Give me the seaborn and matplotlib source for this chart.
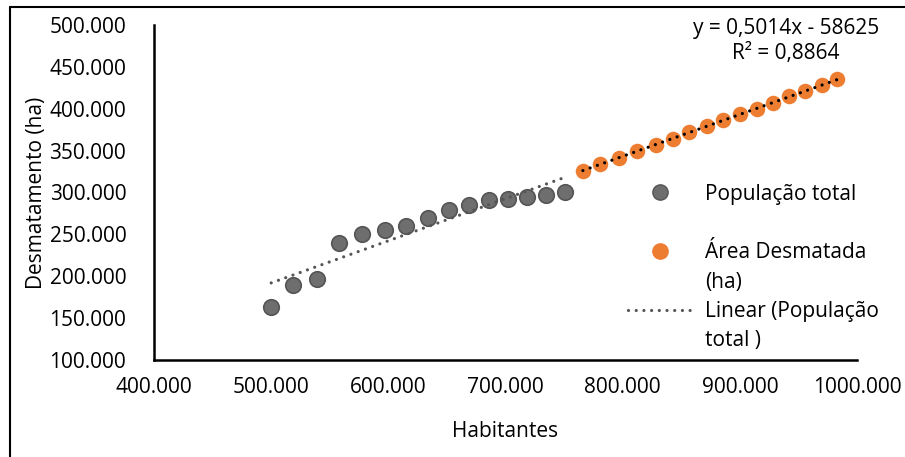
import numpy as np
import pandas as pd
import matplotlib
matplotlib.use("Agg")
import matplotlib.pyplot as plt
from matplotlib.lines import Line2D
from matplotlib.ticker import FuncFormatter
import seaborn as sns

# valores
hab_populacao = [500000, 519000, 539000, 558000, 577500, 597000, 615000, 634000,
                 652000, 669000, 686000, 702000, 718000, 734500, 751000]
desm_populacao = [163600, 189600, 196700, 239300, 250000, 255600, 260400, 269000,
                  279000, 284700, 290700, 292000, 294600, 297000, 300000]
hab_area = [766000, 781000, 797000, 812000, 828000, 843000, 857000, 872000,
            886000, 900000, 915000, 928000, 942000, 956000, 970000, 983000]
desm_area = [326000, 334000, 341600, 349600, 357000, 364000, 372000, 379000,
             386600, 393700, 400000, 407000, 415000, 421000, 428000, 435000]

x_ticks = [400000, 500000, 600000, 700000, 800000, 900000, 1000000]
y_ticks = [100000, 150000, 200000, 250000, 300000, 350000, 400000, 450000, 500000]
equacao = "y = 0,5014x - 58625"
r2 = "R² = 0,8864"

cinza = "#6e6e6e"
cinza_borda = "#555555"
laranja = "#ed7d31"

sns.set_style("white")
plt.rcParams["font.family"] = ["Open Sans", "DejaVu Sans"]
plt.rcParams["text.color"] = "black"
plt.rcParams["axes.labelcolor"] = "black"
fs = 15

df_pop = pd.DataFrame({"Habitantes": hab_populacao, "Desmatamento": desm_populacao})
df_area = pd.DataFrame({"Habitantes": hab_area, "Desmatamento": desm_area})

fig = plt.figure(figsize=(9.05, 4.57), dpi=100)
ax = fig.add_axes([0.1702, 0.2123, 0.7768, 0.7330])

sns.scatterplot(data=df_pop, x="Habitantes", y="Desmatamento", ax=ax, s=125,
                color=cinza, edgecolor=cinza_borda, linewidth=1.2, zorder=3)
sns.scatterplot(data=df_area, x="Habitantes", y="Desmatamento", ax=ax, s=125,
                color=laranja, edgecolor=laranja, linewidth=0, zorder=3)

pontilhado = (0, (0.01, 2.4))

# linhas de tendencia
coef_pop = np.polyfit(df_pop["Habitantes"], df_pop["Desmatamento"], 1)
xs = np.array([df_pop["Habitantes"].min(), df_pop["Habitantes"].max()])
ax.plot(xs, np.polyval(coef_pop, xs), color=cinza_borda, lw=2.3,
        linestyle=pontilhado, dash_capstyle="round", zorder=4)

coef_area = np.polyfit(df_area["Habitantes"], df_area["Desmatamento"], 1)
xs2 = np.array([df_area["Habitantes"].min(), df_area["Habitantes"].max()])
ax.plot(xs2, np.polyval(coef_area, xs2), color="black", lw=2.3,
        linestyle=pontilhado, dash_capstyle="round", zorder=4)

ax.set_xlim(x_ticks[0], x_ticks[-1])
ax.set_ylim(y_ticks[0], y_ticks[-1])
ax.set_xticks(x_ticks)
ax.set_yticks(y_ticks)
# formato do excel: milhares separados so uma vez (1000.000)
fmt = FuncFormatter(lambda v, _: f"{int(v) // 1000}.{int(v) % 1000:03d}")
ax.xaxis.set_major_formatter(fmt)
ax.yaxis.set_major_formatter(fmt)
ax.tick_params(axis="both", length=0, labelsize=fs, colors="black")
ax.tick_params(axis="x", pad=12)
ax.tick_params(axis="y", pad=20)

for s in ["top", "right"]:
    ax.spines[s].set_visible(False)
for s in ["left", "bottom"]:
    ax.spines[s].set_color("black")
    ax.spines[s].set_linewidth(1.8)

ax.set_xlabel("Habitantes", fontsize=fs, labelpad=16.5)
ax.set_ylabel("Desmatamento (ha)", fontsize=fs, labelpad=2)

ax.text(0.899, 0.951, equacao + "\n" + r2, transform=ax.transAxes, ha="center",
        va="center", fontsize=fs, linespacing=1.25)

vazio = Line2D([], [], color="none")
handles = [
    Line2D([], [], linestyle="none", marker="o", markersize=11,
           markerfacecolor=cinza, markeredgecolor=cinza_borda),
    vazio,
    Line2D([], [], linestyle="none", marker="o", markersize=11,
           markerfacecolor=laranja, markeredgecolor=laranja),
    vazio,
    Line2D([], [], color=cinza_borda, lw=2.3, linestyle=pontilhado,
           dash_capstyle="round"),
    vazio,
]
labels = ["População total", "", "Área Desmatada", "(ha)",
          "Linear (População", "total )"]
ax.legend(handles, labels, loc="upper left", bbox_to_anchor=(0.674, 0.526),
          frameon=False, fontsize=fs, handlelength=3.1, handletextpad=0.6,
          labelspacing=0.4, borderpad=0, borderaxespad=0, numpoints=1)

# borda da area do grafico
fig.add_artist(Line2D([10 / 905, 1], [1 - 7 / 457, 1 - 7 / 457],
                      transform=fig.transFigure, color="black", lw=1.5))
fig.add_artist(Line2D([10 / 905, 10 / 905], [0, 1 - 7 / 457],
                      transform=fig.transFigure, color="black", lw=1.5))

fig.savefig("out.png", dpi=100)
